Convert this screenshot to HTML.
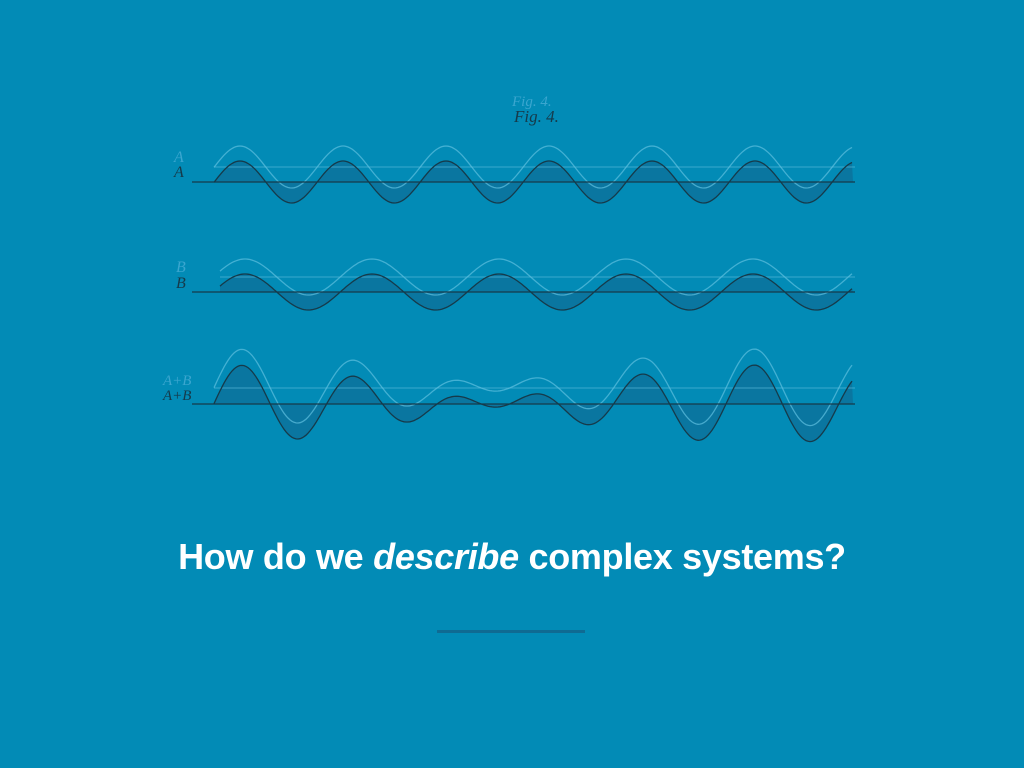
<!DOCTYPE html>
<html><head><meta charset="utf-8"><style>
html,body{margin:0;padding:0;background:#028bb6;}
body{width:1024px;height:768px;position:relative;overflow:hidden;font-family:"Liberation Sans",sans-serif;}
#t{position:absolute;left:0;width:1024px;top:536px;text-align:center;color:#fff;font-weight:bold;font-size:36px;letter-spacing:-0.3px;}
#l{position:absolute;left:437px;top:630px;width:148px;height:3px;background:#0f6b93;}
svg{position:absolute;left:0;top:0;}
</style></head><body>
<svg id="s" width="1024" height="500" viewBox="0 0 1024 500">
<g font-family="Liberation Serif,serif" font-style="italic" fill="#163a4a">
<text x="514" y="122" font-size="17">Fig. 4.</text>
<text x="512" y="106" font-size="15" fill="#3aa6cf">Fig. 4.</text>
<text x="174" y="177" font-size="16">A</text>
<text x="176" y="288" font-size="16">B</text>
<text x="163" y="400" font-size="15">A+B</text>
<text x="174" y="162" font-size="16" fill="#3aa6cf">A</text>
<text x="176" y="272" font-size="16" fill="#3aa6cf">B</text>
<text x="163" y="385" font-size="15" fill="#3aa6cf">A+B</text>
</g>
</svg>
<div id="t">How do we <i>describe</i> complex systems?</div>
<div id="l"></div>
<script>
var s=document.getElementById('s'),ns='http://www.w3.org/2000/svg';
function A(x){return 21*Math.cos(2*Math.PI*(x-240)/103);}
function B(x){return 18*Math.cos(2*Math.PI*(x-245)/127);}
function AB(x){return A(x)+B(x);}
function row(f,base,x0,x1,ghostDy){
  var d='';
  for(var x=x0;x<=x1;x+=2){var y=base-f(x);d+=(x==x0?'M':'L')+x+','+y.toFixed(1)+' ';}
  var g=document.createElementNS(ns,'path');
  var gd='';for(var x=x0;x<=x1;x+=2){gd+=(x==x0?'M':'L')+x+','+(base-ghostDy-f(x)).toFixed(1)+' ';}
  g.setAttribute('d',gd);g.setAttribute('fill','none');g.setAttribute('stroke','#5fc0e0');g.setAttribute('stroke-width','1.3');g.setAttribute('opacity','0.7');
  var fl=document.createElementNS(ns,'path');
  fl.setAttribute('d',d+'L'+x1+','+base+' L'+x0+','+base+' Z');fl.setAttribute('fill','#0a76a0');
  s.appendChild(fl);
  var gl=document.createElementNS(ns,'line');
  gl.setAttribute('x1',x0);gl.setAttribute('x2',855);gl.setAttribute('y1',base-ghostDy);gl.setAttribute('y2',base-ghostDy);gl.setAttribute('stroke','#5fc0e0');gl.setAttribute('opacity','0.6');
  s.appendChild(gl);s.appendChild(g);
  var bl=document.createElementNS(ns,'line');
  bl.setAttribute('x1',192);bl.setAttribute('x2',855);bl.setAttribute('y1',base);bl.setAttribute('y2',base);bl.setAttribute('stroke','#163a4a');bl.setAttribute('stroke-width','1.2');
  s.appendChild(bl);
  var c=document.createElementNS(ns,'path');
  c.setAttribute('d',d);c.setAttribute('fill','none');c.setAttribute('stroke','#163a4a');c.setAttribute('stroke-width','1.3');
  s.appendChild(c);
}
row(A,182,214,853,15);
row(B,292,220,853,15);
row(AB,404,214,853,16);
</script>
</body></html>
